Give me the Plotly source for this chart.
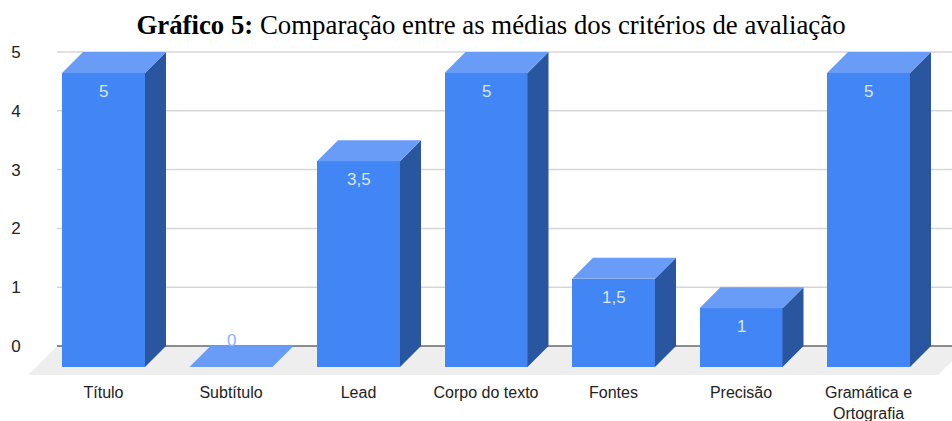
import plotly.graph_objects as go

categories = ["Título", "Subtítulo", "Lead", "Corpo do texto", "Fontes", "Precisão", "Gramática e<br>Ortografia"]
values = [5, 0, 3.5, 5, 1.5, 1, 5]
value_labels = ["5", "0", "3,5", "5", "1,5", "1", "5"]
y_ticks = [0, 1, 2, 3, 4, 5]

FRONT, TOP, SIDE = "#4285f4", "#689cf6", "#2a56a0"
W, H = 952, 421
ML, MR, MT, MB = 28, 0, 40, 46
PX_X, PX_Y = 127.5, 58.8          # pixels per category / per unit
X0_PX, Y0_PX = 103.5, 346         # pixel of category 0 front centre / of value 0
x_range = [(ML - X0_PX) / PX_X, (W - MR - X0_PX) / PX_X]
y_range = [(Y0_PX - (H - MB)) / PX_Y, (Y0_PX - MT) / PX_Y]
dx, dy = 21 / PX_X, 21 / PX_Y     # 3D depth offset
half = 83 / PX_X / 2
floor_dx = 29 / PX_X

fig = go.Figure()

# front faces
fig.add_trace(go.Bar(
    x=list(range(len(values))), y=values, base=[-dy] * len(values),
    width=2 * half, marker=dict(color=FRONT, line=dict(width=0)),
    hoverinfo="skip", showlegend=False))

# side and top faces
for i, v in enumerate(values):
    l, r = i - half, i + half
    b, t = -dy, v - dy
    if v > 0:
        fig.add_trace(go.Scatter(
            x=[r, r + dx, r + dx, r, r], y=[b, b + dy, t + dy, t, b],
            mode="lines", fill="toself", fillcolor=SIDE, line=dict(width=0),
            hoverinfo="skip", showlegend=False))
    fig.add_trace(go.Scatter(
        x=[l, r, r + dx, l + dx, l], y=[t, t, t + dy, t + dy, t],
        mode="lines", fill="toself", fillcolor=TOP, line=dict(width=0),
        hoverinfo="skip", showlegend=False))

shapes = []
# floor
fy = y_range[0]
shapes.append(dict(type="path", layer="below", line=dict(width=0), fillcolor="#eeeeee",
                   xref="x", yref="y",
                   path=(f"M {x_range[0]} {fy} L {x_range[0] + floor_dx} 0 L {x_range[1] + 0.12} 0 "
                         f"L {x_range[1] - 0.11} {fy} Z")))
# gridlines
for t in y_ticks:
    shapes.append(dict(type="line", layer="below", xref="x", yref="y",
                       x0=x_range[0] + floor_dx, x1=x_range[1], y0=t, y1=t,
                       line=dict(color="#222222" if t == 0 else "#d6d6d6", width=1.2 if t == 0 else 1.5)))

annotations = []
for i, (v, s) in enumerate(zip(values, value_labels)):
    if v > 0:
        annotations.append(dict(x=i, y=v - dy, xref="x", yref="y", text=s, showarrow=False,
                                yanchor="middle", yshift=-18.5,
                                font=dict(family="Liberation Sans", size=17, color="#dbe7fd")))
    else:
        annotations.append(dict(x=i, y=v, xref="x", yref="y", text=s, showarrow=False,
                                yanchor="middle", yshift=6,
                                font=dict(family="Liberation Sans", size=17, color="#8ab4f8")))

fig.update_layout(
    width=W, height=H, margin=dict(l=ML, r=MR, t=MT, b=MB, autoexpand=False),
    paper_bgcolor="white", plot_bgcolor="white", showlegend=False,
    bargap=0, shapes=shapes, annotations=annotations,
    title=dict(text="<b>Gráfico 5:</b> Comparação entre as médias dos critérios de avaliação",
               xref="container", x=491 / W, xanchor="center",
               yref="container", y=1 - 25 / H, yanchor="middle", automargin=False,
               font=dict(family="Liberation Serif", size=26.8, color="#000000")),
    xaxis=dict(range=x_range, tickmode="array", tickvals=list(range(len(categories))),
               ticktext=categories, showgrid=False, zeroline=False, showline=False,
               ticks="outside", ticklen=3, tickcolor="rgba(0,0,0,0)", automargin=False,
               tickfont=dict(family="Liberation Sans", size=16, color="#222222")),
    yaxis=dict(range=y_range, tickmode="array", tickvals=y_ticks, ticktext=[str(t) for t in y_ticks],
               showgrid=False, zeroline=False, showline=False,
               ticks="outside", ticklen=3, tickcolor="rgba(0,0,0,0)", automargin=False,
               tickfont=dict(family="Liberation Sans", size=17, color="#222222")),
)
fig.write_html("out.html", config={"displayModeBar": False},
               post_script="document.body.style.margin='0';document.body.style.overflow='hidden';")
